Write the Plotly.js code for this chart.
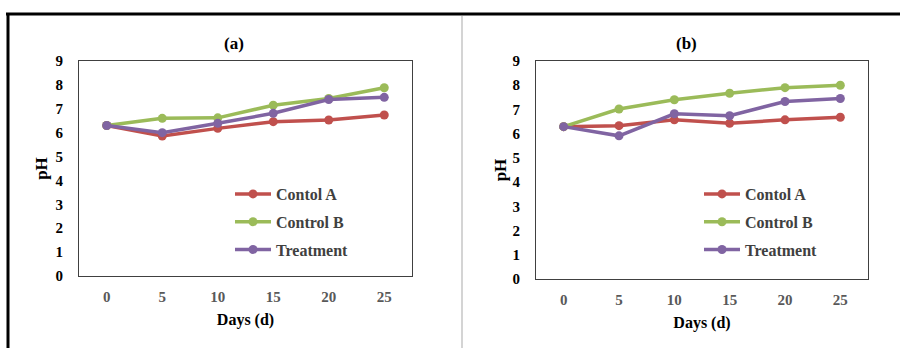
<!DOCTYPE html>
<html>
<head>
<meta charset="utf-8">
<script src="https://cdn.plot.ly/plotly-3.0.1.min.js"></script>
<style>html,body{margin:0;padding:0;background:#fff;}#chart{width:900px;height:348px;}</style>
</head>
<body>
<div id="chart"></div>
<script>
var days = ['0', '5', '10', '15', '20', '25'];
var seriesNames = ['Contol A', 'Control B', 'Treatment'];

// Panel (a)
var aControlA = [6.3, 5.86, 6.18, 6.46, 6.53, 6.74];
var aControlB = [6.3, 6.6, 6.62, 7.15, 7.43, 7.88];
var aTreatment = [6.3, 6.0, 6.39, 6.81, 7.39, 7.48];

// Panel (b)
var bControlA = [6.29, 6.33, 6.57, 6.43, 6.57, 6.68];
var bControlB = [6.29, 7.02, 7.4, 7.67, 7.9, 8.0];
var bTreatment = [6.29, 5.91, 6.82, 6.74, 7.33, 7.45];

var yTicks = [0, 1, 2, 3, 4, 5, 6, 7, 8, 9];

var colors = ['#C0504D', '#9BBB59', '#8064A2'];
var serif = 'Liberation Serif';
function b(s) { return '<b>' + s + '</b>'; }

function mk(y, i, xa, ya, leg) {
  return {
    x: days, y: y, name: b(seriesNames[i]), type: 'scatter', mode: 'lines+markers',
    xaxis: xa, yaxis: ya, legend: leg, legendgroup: leg + i,
    line: {color: colors[i], width: 3.5},
    marker: {color: colors[i], size: 9, symbol: 'circle'},
    hoverinfo: 'skip'
  };
}

var data = [
  mk(aControlA, 0, 'x', 'y', 'legend'),
  mk(aControlB, 1, 'x', 'y', 'legend'),
  mk(aTreatment, 2, 'x', 'y', 'legend'),
  mk(bControlA, 0, 'x2', 'y2', 'legend2'),
  mk(bControlB, 1, 'x2', 'y2', 'legend2'),
  mk(bTreatment, 2, 'x2', 'y2', 'legend2')
];

function xax(domain, anchor) {
  return {
    domain: domain, anchor: anchor, type: 'category', range: [-0.5, 5.5],
    tickmode: 'array', tickvals: days, ticktext: days.map(b),
    showgrid: false, zeroline: false, showline: true, mirror: true,
    linecolor: '#404040', linewidth: 1, ticks: '', ticklabelstandoff: 7,
    tickfont: {family: serif, size: 15, color: '#595959'},
    title: {text: b('Days (d)'), font: {family: serif, size: 16, color: '#000'}, standoff: 9},
    fixedrange: true
  };
}
function yax(domain, anchor, st) {
  return {
    domain: domain, anchor: anchor, range: [0, 9],
    tickmode: 'array', tickvals: yTicks, ticktext: yTicks.map(b),
    showgrid: false, zeroline: false, showline: true, mirror: true,
    linecolor: '#404040', linewidth: 1, ticks: '', ticklabelstandoff: 12,
    tickfont: {family: serif, size: 15, color: '#000'},
    title: {text: b('pH'), font: {family: serif, size: 17, color: '#000'}, standoff: st},
    fixedrange: true
  };
}

function leg(x) {
  return {
    x: x, y: 1 - 177/348, xanchor: 'left', yanchor: 'top', xref: 'paper', yref: 'paper',
    bgcolor: 'rgba(0,0,0,0)', borderwidth: 0, traceorder: 'grouped', tracegroupgap: 4,
    font: {family: serif, size: 16, color: '#404040'},
    itemwidth: 36
  };
}

var layout = {
  width: 900, height: 348,
  margin: {l: 0, r: 0, t: 0, b: 0},
  paper_bgcolor: '#fff', plot_bgcolor: '#fff',
  showlegend: true,
  xaxis: xax([79/900, 412/900], 'y'),
  yaxis: yax([1 - 276/348, 1 - 61/348], 'x', 3),
  xaxis2: xax([536/900, 868/900], 'y2'),
  yaxis2: yax([1 - 279/348, 1 - 61/348], 'x2', 1),
  legend: leg(230/900),
  legend2: leg(699/900),
  annotations: [
    {text: b('(a)'), x: 234/900, y: 1 - 44/348, xref: 'paper', yref: 'paper', showarrow: false,
     xanchor: 'center', yanchor: 'middle', font: {family: serif, size: 17, color: '#000'}},
    {text: b('(b)'), x: 686/900, y: 1 - 44/348, xref: 'paper', yref: 'paper', showarrow: false,
     xanchor: 'center', yanchor: 'middle', font: {family: serif, size: 17, color: '#000'}}
  ],
  shapes: [
    {type: 'line', xref: 'paper', yref: 'paper', x0: 6/900, x1: 1, y0: 1 - 14/348, y1: 1 - 14/348,
     line: {color: '#000', width: 3}},
    {type: 'line', xref: 'paper', yref: 'paper', x0: 8/900, x1: 8/900, y0: 1 - 13/348, y1: 0,
     line: {color: '#000', width: 3}},
    {type: 'line', xref: 'paper', yref: 'paper', x0: 462/900, x1: 462/900, y0: 1 - 16/348, y1: 0,
     line: {color: '#d4d4d4', width: 2}}
  ]
};

Plotly.newPlot('chart', data, layout, {staticPlot: true, displayModeBar: false});
</script>
</body>
</html>
